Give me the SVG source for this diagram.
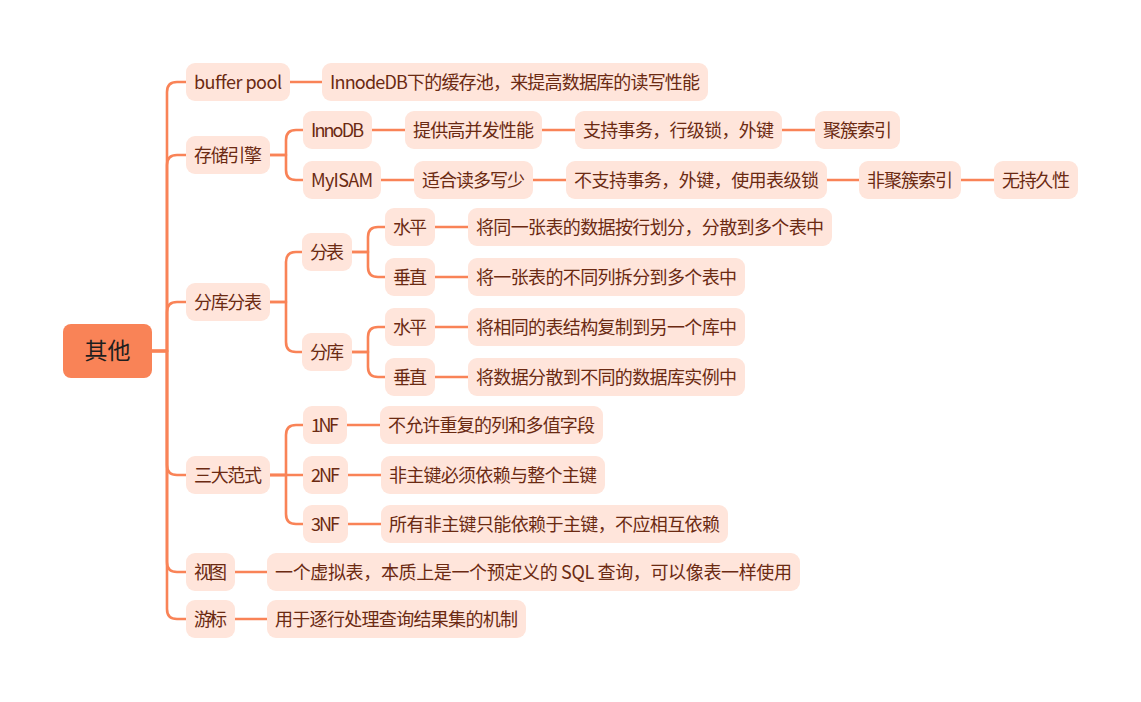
<svg xmlns="http://www.w3.org/2000/svg" width="1141" height="702" viewBox="0 0 1141 702">
<style>
.bg{fill:#ffffff}
.n rect{fill:#FFE5DB}
.n text{fill:#6B2A12;font-family:"Noto Sans CJK SC","Noto Sans",sans-serif;font-size:18px;text-anchor:middle}
.r rect{fill:#F98357}
.r text{fill:#1E1E1E;font-family:"Noto Sans CJK SC","Noto Sans",sans-serif;font-size:23px;text-anchor:middle}
.c path{fill:none;stroke:#F98357;stroke-width:2.6;stroke-linecap:round;stroke-linejoin:round}
</style>
<rect class="bg" x="0" y="0" width="1141" height="702"/>
<g id="connectors" class="c">
<path d="M152,351 H167 V92 Q167,82 177,82 H186"/>
<path d="M152,351 H167 V165 Q167,155 177,155 H186"/>
<path d="M152,351 H167 V312 Q167,302 177,302 H186"/>
<path d="M152,351 H167 V465 Q167,475 177,475 H186"/>
<path d="M152,351 H167 V562 Q167,572 177,572 H186"/>
<path d="M152,351 H167 V609 Q167,619 177,619 H186"/>
<path d="M290,82 H322"/>
<path d="M270,155 H286 V140 Q286,130 296,130 H303"/>
<path d="M270,155 H286 V170 Q286,180 296,180 H303"/>
<path d="M372,130 H405"/>
<path d="M542,130 H575"/>
<path d="M782,130 H815"/>
<path d="M381,180 H414"/>
<path d="M533,180 H566"/>
<path d="M827,180 H859"/>
<path d="M961,180 H994"/>
<path d="M270,302 H286 V262 Q286,252 296,252 H302"/>
<path d="M270,302 H286 V342 Q286,352 296,352 H302"/>
<path d="M352,252 H368 V237 Q368,227 378,227 H385"/>
<path d="M352,252 H368 V267 Q368,277 378,277 H385"/>
<path d="M352,352 H368 V337 Q368,327 378,327 H385"/>
<path d="M352,352 H368 V367 Q368,377 378,377 H385"/>
<path d="M435,227 H468"/>
<path d="M435,277 H468"/>
<path d="M435,327 H468"/>
<path d="M435,377 H468"/>
<path d="M270,475 H286 V435 Q286,425 296,425 H303"/>
<path d="M270,475 H303"/>
<path d="M270,475 H286 V514 Q286,524 296,524 H303"/>
<path d="M347,425 H380"/>
<path d="M348,475 H381"/>
<path d="M348,524 H381"/>
<path d="M235,572 H267"/>
<path d="M235,619 H267"/>
</g>
<g id="root" class="r"><rect x="63" y="324" width="89" height="54" rx="8"/><text x="107.5" y="359">其他</text></g>
<g id="n-bufferpool" class="n"><rect x="186" y="63" width="104" height="38" rx="9"/><text x="238" y="88.5" textLength="88">buffer pool</text></g>
<g id="n-bufferpool-desc" class="n"><rect x="322" y="63" width="386" height="38" rx="9"/><text x="515" y="88.5" textLength="370">InnodeDB下的缓存池，来提高数据库的读写性能</text></g>
<g id="n-engine" class="n"><rect x="186" y="136" width="84" height="38" rx="9"/><text x="228" y="161.5" textLength="68">存储引擎</text></g>
<g id="n-innodb" class="n"><rect x="303" y="111" width="69" height="38" rx="9"/><text x="337.5" y="136.5" textLength="53">InnoDB</text></g>
<g id="n-innodb-1" class="n"><rect x="405" y="111" width="137" height="38" rx="9"/><text x="473.5" y="136.5" textLength="121">提供高并发性能</text></g>
<g id="n-innodb-2" class="n"><rect x="575" y="111" width="207" height="38" rx="9"/><text x="678.5" y="136.5" textLength="191">支持事务，行级锁，外键</text></g>
<g id="n-innodb-3" class="n"><rect x="815" y="111" width="85" height="38" rx="9"/><text x="857.5" y="136.5" textLength="69">聚簇索引</text></g>
<g id="n-myisam" class="n"><rect x="303" y="161" width="78" height="38" rx="9"/><text x="342" y="186.5" textLength="62">MyISAM</text></g>
<g id="n-myisam-1" class="n"><rect x="414" y="161" width="119" height="38" rx="9"/><text x="473.5" y="186.5" textLength="103">适合读多写少</text></g>
<g id="n-myisam-2" class="n"><rect x="566" y="161" width="261" height="38" rx="9"/><text x="696.5" y="186.5" textLength="245">不支持事务，外键，使用表级锁</text></g>
<g id="n-myisam-3" class="n"><rect x="859" y="161" width="102" height="38" rx="9"/><text x="910" y="186.5" textLength="86">非聚簇索引</text></g>
<g id="n-myisam-4" class="n"><rect x="994" y="161" width="84" height="38" rx="9"/><text x="1036" y="186.5" textLength="68">无持久性</text></g>
<g id="n-sharding" class="n"><rect x="186" y="283" width="84" height="38" rx="9"/><text x="228" y="308.5" textLength="68">分库分表</text></g>
<g id="n-table" class="n"><rect x="302" y="233" width="50" height="38" rx="9"/><text x="327" y="258.5" textLength="34">分表</text></g>
<g id="n-table-h" class="n"><rect x="385" y="208" width="50" height="38" rx="9"/><text x="410" y="233.5" textLength="34">水平</text></g>
<g id="n-table-h-desc" class="n"><rect x="468" y="208" width="364" height="38" rx="9"/><text x="650" y="233.5" textLength="348">将同一张表的数据按行划分，分散到多个表中</text></g>
<g id="n-table-v" class="n"><rect x="385" y="258" width="50" height="38" rx="9"/><text x="410" y="283.5" textLength="34">垂直</text></g>
<g id="n-table-v-desc" class="n"><rect x="468" y="258" width="277" height="38" rx="9"/><text x="606.5" y="283.5" textLength="261">将一张表的不同列拆分到多个表中</text></g>
<g id="n-db" class="n"><rect x="302" y="333" width="50" height="38" rx="9"/><text x="327" y="358.5" textLength="34">分库</text></g>
<g id="n-db-h" class="n"><rect x="385" y="308" width="50" height="38" rx="9"/><text x="410" y="333.5" textLength="34">水平</text></g>
<g id="n-db-h-desc" class="n"><rect x="468" y="308" width="277" height="38" rx="9"/><text x="606.5" y="333.5" textLength="261">将相同的表结构复制到另一个库中</text></g>
<g id="n-db-v" class="n"><rect x="385" y="358" width="50" height="38" rx="9"/><text x="410" y="383.5" textLength="34">垂直</text></g>
<g id="n-db-v-desc" class="n"><rect x="468" y="358" width="277" height="38" rx="9"/><text x="606.5" y="383.5" textLength="261">将数据分散到不同的数据库实例中</text></g>
<g id="n-nf" class="n"><rect x="186" y="456" width="84" height="38" rx="9"/><text x="228" y="481.5" textLength="68">三大范式</text></g>
<g id="n-1nf" class="n"><rect x="303" y="406" width="44" height="38" rx="9"/><text x="325" y="431.5" textLength="28">1NF</text></g>
<g id="n-1nf-desc" class="n"><rect x="380" y="406" width="223" height="38" rx="9"/><text x="491.5" y="431.5" textLength="207">不允许重复的列和多值字段</text></g>
<g id="n-2nf" class="n"><rect x="303" y="456" width="45" height="38" rx="9"/><text x="325.5" y="481.5" textLength="29">2NF</text></g>
<g id="n-2nf-desc" class="n"><rect x="381" y="456" width="224" height="38" rx="9"/><text x="493" y="481.5" textLength="208">非主键必须依赖与整个主键</text></g>
<g id="n-3nf" class="n"><rect x="303" y="505" width="45" height="38" rx="9"/><text x="325.5" y="530.5" textLength="29">3NF</text></g>
<g id="n-3nf-desc" class="n"><rect x="381" y="505" width="347" height="38" rx="9"/><text x="554.5" y="530.5" textLength="331">所有非主键只能依赖于主键，不应相互依赖</text></g>
<g id="n-view" class="n"><rect x="186" y="553" width="49" height="38" rx="9"/><text x="210.5" y="578.5" textLength="33">视图</text></g>
<g id="n-view-desc" class="n"><rect x="267" y="553" width="533" height="38" rx="9"/><text x="533.5" y="578.5" textLength="517">一个虚拟表，本质上是一个预定义的 SQL 查询，可以像表一样使用</text></g>
<g id="n-cursor" class="n"><rect x="186" y="600" width="49" height="38" rx="9"/><text x="210.5" y="625.5" textLength="33">游标</text></g>
<g id="n-cursor-desc" class="n"><rect x="267" y="600" width="259" height="38" rx="9"/><text x="396.5" y="625.5" textLength="243">用于逐行处理查询结果集的机制</text></g>
</svg>
